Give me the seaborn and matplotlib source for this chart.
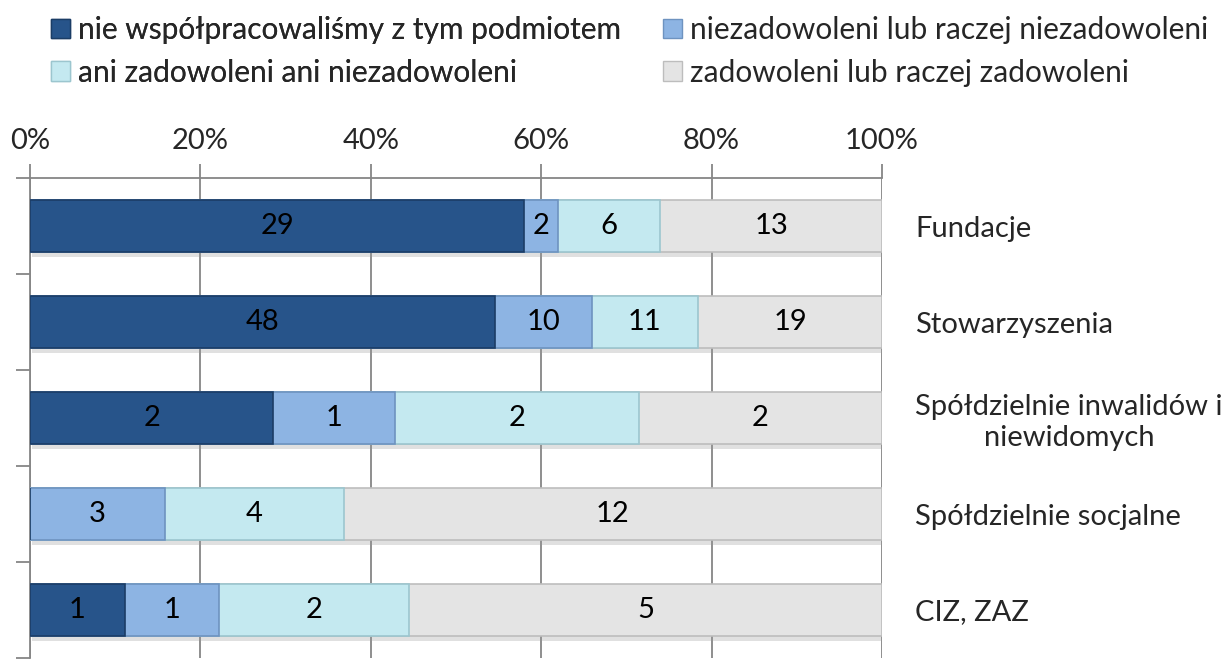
import numpy as np
import pandas as pd
import matplotlib
matplotlib.use("Agg")
import matplotlib.pyplot as plt
import matplotlib.patheffects as pe
from matplotlib.patches import Patch
import seaborn as sns

# Organisation types (top to bottom)
categories = [
    "Fundacje",
    "Stowarzyszenia",
    "Spółdzielnie inwalidów i\nniewidomych",
    "Spółdzielnie socjalne",
    "CIZ, ZAZ",
]

# Response series
series_names = [
    "nie współpracowaliśmy z tym podmiotem",
    "niezadowoleni lub raczej niezadowoleni",
    "ani zadowoleni ani niezadowoleni",
    "zadowoleni lub raczej zadowoleni",
]

# Counts of answers per series, in category order
no_cooperation = [29, 48, 2, 0, 1]
dissatisfied = [2, 10, 1, 3, 1]
neutral = [6, 11, 2, 4, 2]
satisfied = [13, 19, 2, 12, 5]

x_tick_labels = ["0%", "20%", "40%", "60%", "80%", "100%"]

colors = ["#27548A", "#8DB4E3", "#C4E9F0", "#E4E4E4"]
edge_colors = ["#1B3D66", "#6E93C0", "#9CC6CF", "#BDBDBD"]

counts = np.array([no_cooperation, dissatisfied, neutral, satisfied], dtype=float)
shares = counts / counts.sum(axis=0) * 100
cumulative = np.cumsum(shares, axis=0)

rows = []
for s, name in enumerate(series_names):
    for c, cat in enumerate(categories):
        rows.append({"category": cat, "series": name,
                     "count": counts[s, c], "share": shares[s, c],
                     "cum": cumulative[s, c]})
df = pd.DataFrame(rows)

sns.set_theme(style="white")
plt.rcParams["font.family"] = ["Lato", "DejaVu Sans"]
FS = 21

W, H = 1230, 660
fig = plt.figure(figsize=(W / 100, H / 100), dpi=100)
ax = fig.add_axes([30 / W, 2 / H, (882 - 30) / W, (658 - 178) / H])

# Stacked bars: draw cumulative totals from the outermost segment inward
for s in reversed(range(len(series_names))):
    sub = df[df["series"] == series_names[s]]
    sns.barplot(data=sub, x="cum", y="category", order=categories,
                orient="h", color=colors[s], width=0.55, errorbar=None,
                edgecolor=edge_colors[s], linewidth=1.2, ax=ax,
                saturation=1, zorder=3)
    if s == len(series_names) - 1:
        for p in ax.patches:
            p.set_path_effects([pe.SimplePatchShadow(offset=(1.5, -3.5),
                                                     shadow_rgbFace="#9A9A9A",
                                                     alpha=0.3),
                                pe.Normal()])

# Count labels centred in each segment
for s in range(len(series_names)):
    for c in range(len(categories)):
        if counts[s, c] > 0:
            ax.text(cumulative[s, c] - shares[s, c] / 2, c,
                    f"{int(counts[s, c])}", ha="center", va="center",
                    fontsize=FS, color="black", zorder=5)

ax.set_xlim(0, 100)
ax.set_ylim(len(categories) - 0.5, -0.5)
ax.set_xlabel("")
ax.set_ylabel("")

# Percentage axis on top
ax.xaxis.tick_top()
ax.set_xticks(np.linspace(0, 100, len(x_tick_labels)))
ax.set_xticklabels(x_tick_labels, fontsize=FS)
ax.tick_params(axis="x", which="major", top=True, bottom=False, length=10,
               width=1.3, color="#868686", pad=7, labelsize=FS)
ax.grid(axis="x", color="#868686", linewidth=1.3, zorder=0)
ax.set_axisbelow(True)

# Category labels on the right, boundary ticks on the left
ax.yaxis.tick_right()
ax.set_yticks(range(len(categories)))
ax.set_yticklabels(categories, fontsize=FS)
for lbl in ax.get_yticklabels():
    lbl.set_ha("left")
    lbl.set_multialignment("center")
ax.tick_params(axis="y", which="major", left=False, right=False,
               labelleft=False, labelright=True, pad=24, length=0)
ax.set_yticks(np.arange(-0.5, len(categories), 1.0), minor=True)
ax.tick_params(axis="y", which="minor", left=True, right=False, length=10,
               width=1.3, color="#868686")

for side in ["right", "bottom"]:
    ax.spines[side].set_visible(False)
for side in ["left", "top"]:
    ax.spines[side].set_color("#868686")
    ax.spines[side].set_linewidth(1.3)

handles = [Patch(facecolor=colors[i], edgecolor=edge_colors[i], label=series_names[i])
           for i in range(len(series_names))]
legend_kw = dict(loc="upper left", frameon=False, fontsize=FS + 0.5,
                 handlelength=0.65, handleheight=0.65, handletextpad=0.25,
                 labelspacing=0.5, borderpad=0, borderaxespad=0)
leg1 = fig.legend([handles[0], handles[2]], [series_names[0], series_names[2]],
                  bbox_to_anchor=(51 / W, 1 - 16 / H), **legend_kw)
fig.add_artist(leg1)
fig.legend([handles[1], handles[3]], [series_names[1], series_names[3]],
           bbox_to_anchor=(663 / W, 1 - 16 / H), **legend_kw)

fig.savefig("out.png", dpi=100)
